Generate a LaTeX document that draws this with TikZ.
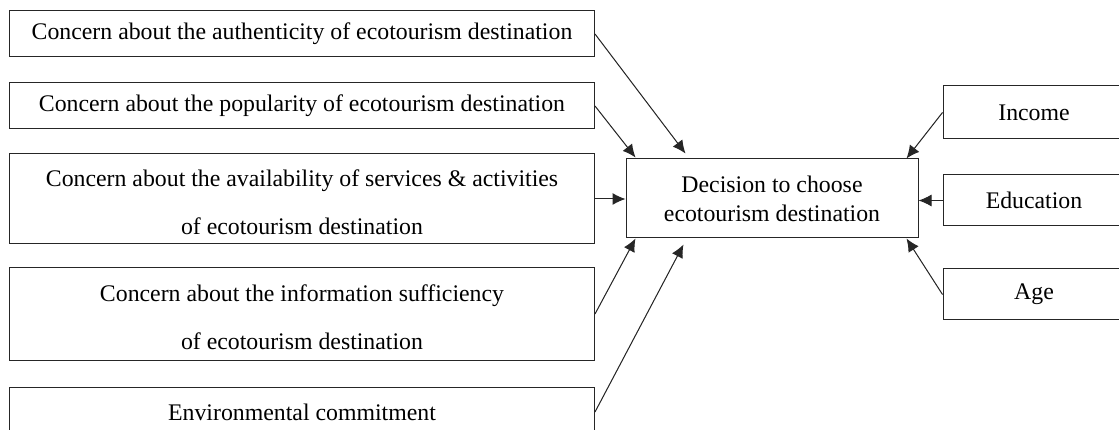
\documentclass[tikz,border=0pt]{standalone}
\usepackage{fontspec}
\setmainfont{Liberation Serif}
\usetikzlibrary{arrows.meta,calc}
\newcommand{\topstrut}{\rule{0pt}{24pt}}
\begin{document}
\begin{tikzpicture}[x=1pt,y=-1pt,
  box/.style={draw=black!85, line width=1pt, inner sep=0pt, align=center,
    font=\fontsize{23.8}{48}\selectfont},
  wide/.style={box, minimum width=585pt},
  side/.style={box, minimum width=182pt},
  arr/.style={-{Latex[length=13pt,width=12pt]}, line width=1pt, draw=black!85, fill=black!85}]
\useasboundingbox (0,0) rectangle (1119,430);
\clip (0,0) rectangle (1119,430);
\fill[white] (0,0) rectangle (1119,430);

% factors on the left
\node[wide, minimum height=46pt] (b1) at (302,34)
  {Concern about the authenticity of ecotourism destination};
\node[wide, minimum height=46pt] (b2) at (302,106)
  {Concern about the popularity of ecotourism destination};
\node[wide, minimum height=90pt] (b3) at (302,199)
  {\topstrut Concern about the availability of services \& activities\\of ecotourism destination};
\node[wide, minimum height=92pt] (b4) at (302,314)
  {\topstrut Concern about the information sufficiency\\of ecotourism destination};
\node[wide, minimum height=50pt] (b5) at (302,412)
  {Environmental commitment};

% outcome
\node[box, minimum width=292pt, minimum height=79pt,
  font=\fontsize{23.8}{29}\selectfont] (dec) at (772,198.5)
  {Decision to choose\\ecotourism destination};

% demographic factors on the right
\node[side, minimum height=53pt] (inc) at (1034,112.5) {Income};
\node[side, minimum height=51pt] (edu) at (1034,200.5) {Education};
\node[side, minimum height=51pt] (age) at (1034,294.5) {Age};

% connectors
\draw[arr] (b1.east) -- ($(dec.north west)+(60,-5)$);
\draw[arr] (b2.east) -- ($(dec.north west)+(10,-1)$);
\draw[arr] (b3.east) -- (dec.west |- b3.east);
\draw[arr] (b4.east) -- ($(dec.south west)+(10,0)$);
\draw[arr] (b5.east) -- ($(dec.south west)+(58,6)$);
\draw[arr] (inc.west) -- ($(dec.north east)+(-12,0)$);
\draw[arr] (edu.west) -- (dec.east |- edu.west);
\draw[arr] (age.west) -- ($(dec.south east)+(-12,0)$);
\end{tikzpicture}
\end{document}
